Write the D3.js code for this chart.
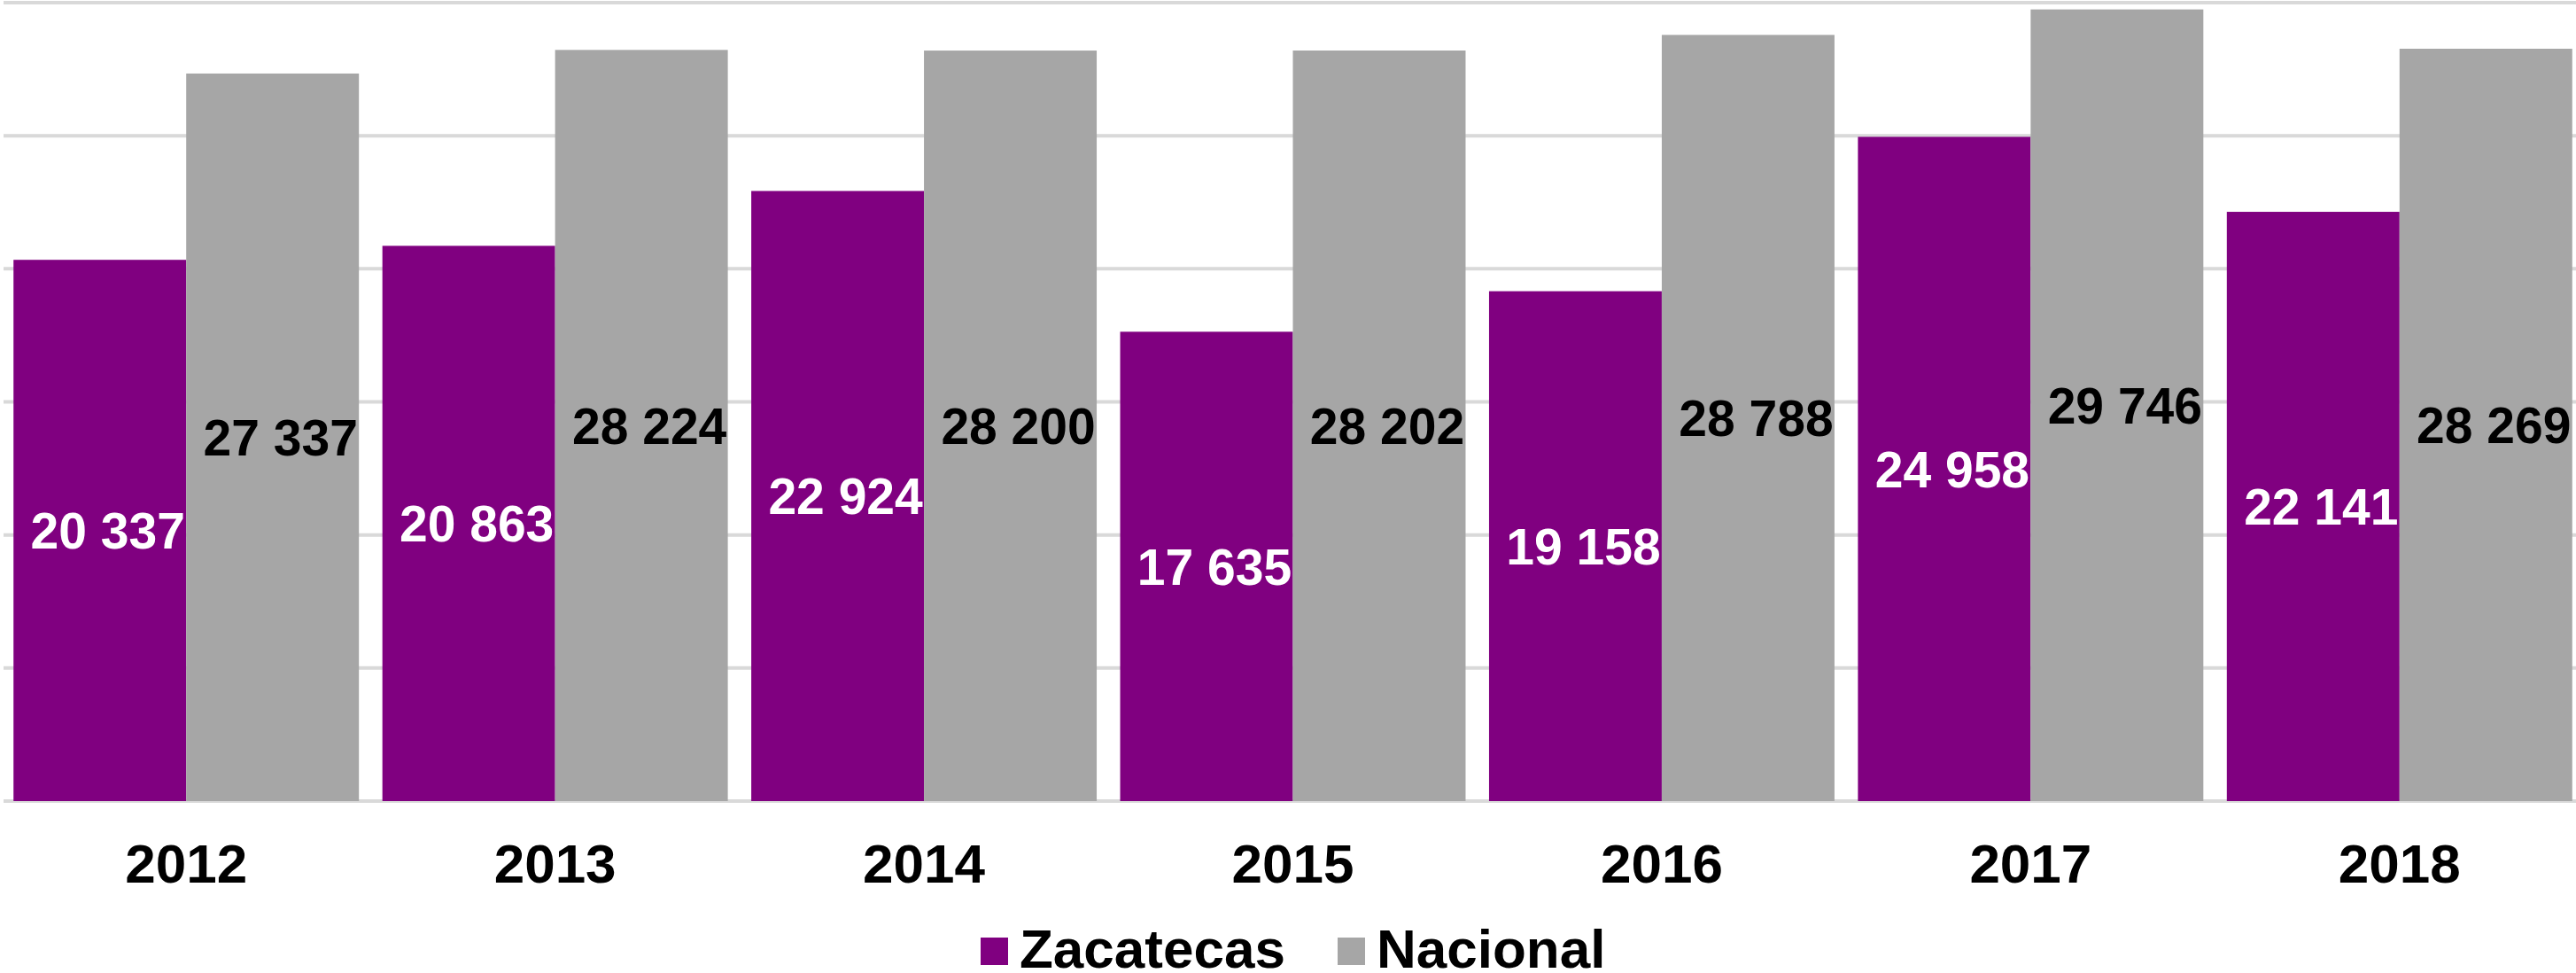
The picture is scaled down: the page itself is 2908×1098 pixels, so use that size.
<!DOCTYPE html>
<html>
<head>
<meta charset="utf-8">
<script src="https://cdn.jsdelivr.net/npm/d3@7"></script>
<style>
  html, body { margin: 0; padding: 0; background: #ffffff; }
  svg { display: block; }
  text { font-family: "Liberation Sans", Arial, sans-serif; font-weight: bold; }
</style>
</head>
<body>
<svg id="chart" width="2908" height="1098"></svg>
<script>
const categories = ["2012", "2013", "2014", "2015", "2016", "2017", "2018"];
const seriesNames = ["Zacatecas", "Nacional"];
const zacatecas = [20337, 20863, 22924, 17635, 19158, 24958, 22141];
const nacional = [27337, 28224, 28200, 28202, 28788, 29746, 28269];
const yTicks = [0, 5000, 10000, 15000, 20000, 25000, 30000];

const colors = { Zacatecas: "#800080", Nacional: "#A6A6A6" };
const labelColors = { Zacatecas: "#ffffff", Nacional: "#000000" };
const seriesValues = { Zacatecas: zacatecas, Nacional: nacional };

const W = 2908, H = 1098;
const svg = d3.select("#chart");

const x0 = d3.scaleBand().domain(categories).range([2, 2917])
  .paddingInner(0.0636).paddingOuter(0.0318);
const x1 = d3.scaleBand().domain(seriesNames).range([0, x0.bandwidth()]).padding(0);
const y = d3.scaleLinear().domain([0, 30000]).range([904, 3]);

const fmt = d3.formatLocale({ decimal: ",", thousands: " ", grouping: [3], currency: ["", ""] }).format(",d");

// gridlines
svg.append("g").selectAll("line").data(yTicks).join("line")
  .attr("x1", 4).attr("x2", W)
  .attr("y1", d => y(d)).attr("y2", d => y(d))
  .attr("stroke", "#D9D9D9").attr("stroke-width", 4);

// bars
const groups = svg.append("g").selectAll("g").data(categories).join("g")
  .attr("transform", d => `translate(${x0(d)},0)`);

groups.selectAll("rect")
  .data((c, i) => seriesNames.map(s => ({ s, v: seriesValues[s][i] })))
  .join("rect")
  .attr("x", d => x1(d.s))
  .attr("width", x1.bandwidth())
  .attr("y", d => y(d.v))
  .attr("height", d => y(0) - y(d.v))
  .attr("fill", d => colors[d.s]);

groups.selectAll("text.lbl")
  .data((c, i) => seriesNames.map(s => ({ s, v: seriesValues[s][i] })))
  .join("text")
  .attr("class", "lbl")
  .attr("x", d => x1(d.s) + x1.bandwidth() / 2 + 9)
  .attr("y", d => (y(d.v) + y(0)) / 2)
  .attr("dy", "0.36em")
  .attr("text-anchor", "middle")
  .attr("font-size", 57)
  .attr("fill", d => labelColors[d.s])
  .text(d => fmt(d.v));

// x axis labels
const xAxis = d3.axisBottom(x0).tickSize(0).tickPadding(0);
const ax = svg.append("g").attr("transform", `translate(0,${y(0)})`).call(xAxis);
ax.select(".domain").remove();
ax.selectAll("text")
  .attr("y", 92).attr("dy", 0)
  .attr("font-size", 62)
  .attr("font-family", "'Liberation Sans', Arial, sans-serif")
  .attr("font-weight", "bold")
  .attr("fill", "#000000");

// legend
const legendX = [1107, 1510];
const lg = svg.append("g").selectAll("g").data(seriesNames).join("g")
  .attr("transform", (d, i) => `translate(${legendX[i]},1058)`);
lg.append("rect").attr("width", 31).attr("height", 31).attr("fill", d => colors[d]);
lg.append("text").attr("x", 44).attr("y", 34).attr("font-size", 62)
  .attr("fill", "#000").text(d => d);
</script>
</body>
</html>
